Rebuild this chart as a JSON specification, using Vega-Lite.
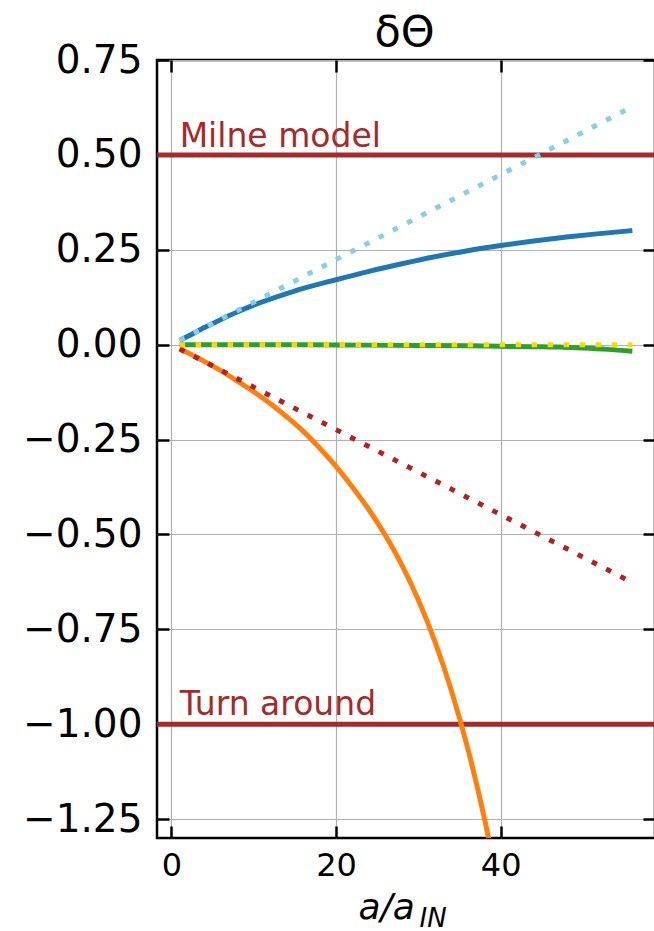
{
  "$schema": "https://vega.github.io/schema/vega-lite/v6.json",
  "width": 498,
  "height": 778,
  "autosize": {"type": "none"},
  "padding": {"left": 157, "top": 60, "right": 0, "bottom": 93},
  "config": {
    "font": "DejaVu Sans",
    "view": {"stroke": "black", "strokeWidth": 2.5},
    "axis": {
      "domain": false,
      "gridColor": "#b0b0b0",
      "gridWidth": 1.2,
      "gridOpacity": 1,
      "tickColor": "black",
      "tickWidth": 2.5,
      "tickSize": -12,
      "labelColor": "black",
      "labelFont": "DejaVu Sans",
      "titleColor": "black",
      "titleFont": "DejaVu Sans",
      "titleFontWeight": "normal"
    }
  },
  "datasets": {
    "levels": [
      {"name": "Milne model", "value": 0.5},
      {"name": "Turn around", "value": -1.0}
    ],
    "solid": [
      {"series": "blue", "a": 1, "delta": 0.011},
      {"series": "blue", "a": 2, "delta": 0.022},
      {"series": "blue", "a": 4, "delta": 0.045},
      {"series": "blue", "a": 6, "delta": 0.066},
      {"series": "blue", "a": 8, "delta": 0.086},
      {"series": "blue", "a": 10, "delta": 0.104},
      {"series": "blue", "a": 13, "delta": 0.127},
      {"series": "blue", "a": 16, "delta": 0.148},
      {"series": "blue", "a": 20, "delta": 0.171},
      {"series": "blue", "a": 24, "delta": 0.193},
      {"series": "blue", "a": 28, "delta": 0.213},
      {"series": "blue", "a": 32, "delta": 0.2315},
      {"series": "blue", "a": 36, "delta": 0.2475},
      {"series": "blue", "a": 40, "delta": 0.261},
      {"series": "blue", "a": 44, "delta": 0.273},
      {"series": "blue", "a": 48, "delta": 0.2835},
      {"series": "blue", "a": 52, "delta": 0.2925},
      {"series": "blue", "a": 56, "delta": 0.3005},
      {"series": "orange", "a": 1, "delta": -0.011},
      {"series": "orange", "a": 2, "delta": -0.0216},
      {"series": "orange", "a": 4, "delta": -0.044},
      {"series": "orange", "a": 6, "delta": -0.0685},
      {"series": "orange", "a": 8, "delta": -0.096},
      {"series": "orange", "a": 10, "delta": -0.124},
      {"series": "orange", "a": 12, "delta": -0.155},
      {"series": "orange", "a": 14, "delta": -0.19},
      {"series": "orange", "a": 16, "delta": -0.228},
      {"series": "orange", "a": 18, "delta": -0.2725},
      {"series": "orange", "a": 20, "delta": -0.321},
      {"series": "orange", "a": 22, "delta": -0.376},
      {"series": "orange", "a": 24, "delta": -0.435},
      {"series": "orange", "a": 26, "delta": -0.503},
      {"series": "orange", "a": 28, "delta": -0.581},
      {"series": "orange", "a": 30, "delta": -0.673},
      {"series": "orange", "a": 32, "delta": -0.782},
      {"series": "orange", "a": 34, "delta": -0.911},
      {"series": "orange", "a": 36, "delta": -1.064},
      {"series": "orange", "a": 38, "delta": -1.246},
      {"series": "orange", "a": 40, "delta": -1.46},
      {"series": "green", "a": 1, "delta": 0.0},
      {"series": "green", "a": 10, "delta": 0.0},
      {"series": "green", "a": 20, "delta": -0.001},
      {"series": "green", "a": 30, "delta": -0.002},
      {"series": "green", "a": 36, "delta": -0.003},
      {"series": "green", "a": 40, "delta": -0.0045},
      {"series": "green", "a": 44, "delta": -0.0055},
      {"series": "green", "a": 47, "delta": -0.0065},
      {"series": "green", "a": 50, "delta": -0.009},
      {"series": "green", "a": 53, "delta": -0.0125},
      {"series": "green", "a": 56, "delta": -0.0175}
    ],
    "dotted": [
      {"series": "skyblue", "a": 1, "delta": 0.0112},
      {"series": "skyblue", "a": 56, "delta": 0.627},
      {"series": "firebrick", "a": 1, "delta": -0.0112},
      {"series": "firebrick", "a": 56, "delta": -0.627},
      {"series": "gold", "a": 1, "delta": 0.0},
      {"series": "gold", "a": 56, "delta": 0.0}
    ],
    "notes": [
      {"label": "Milne model", "a": 1, "delta": 0.52},
      {"label": "Turn around", "a": 1, "delta": -0.975}
    ]
  },
  "layer": [
    {
      "data": {"name": "levels"},
      "mark": {"type": "rule", "color": "#a52a2a", "strokeWidth": 5},
      "encoding": {
        "y": {
          "field": "value",
          "type": "quantitative",
          "scale": {"domain": [-1.3, 0.75], "nice": false, "zero": false},
          "axis": null
        }
      }
    },
    {
      "data": {"name": "solid"},
      "mark": {"type": "line", "strokeWidth": 5, "clip": true, "interpolate": "monotone"},
      "encoding": {
        "x": {
          "field": "a",
          "type": "quantitative",
          "scale": {"domain": [-1.75, 58.75], "nice": false, "zero": false},
          "axis": {
            "orient": "bottom",
            "values": [0, 20, 40],
            "format": "d",
            "labelFontSize": 32,
            "labelPadding": 24,
            "grid": true,
            "title": "a/a",
            "titleFontSize": 36,
            "titleFontStyle": "italic",
            "titleAlign": "left",
            "titleBaseline": "alphabetic",
            "titleX": 201,
            "titleY": 80
          }
        },
        "y": {
          "field": "delta",
          "type": "quantitative",
          "scale": {"domain": [-1.3, 0.75], "nice": false, "zero": false},
          "axis": {
            "orient": "left",
            "values": [-1.25, -1.0, -0.75, -0.5, -0.25, 0, 0.25, 0.5, 0.75],
            "format": ".2f",
            "labelFontSize": 39,
            "labelPadding": 27,
            "grid": true,
            "title": null
          }
        },
        "color": {
          "field": "series",
          "type": "nominal",
          "scale": {
            "domain": ["blue", "orange", "green", "skyblue", "firebrick", "gold"],
            "range": ["#1f77b4", "#ff7f0e", "#2ca02c", "#87ceeb", "#b22222", "#ffd700"]
          },
          "legend": null
        }
      }
    },
    {
      "data": {"name": "dotted"},
      "mark": {"type": "line", "strokeWidth": 5, "strokeDash": [5.5, 10.5], "strokeCap": "butt", "clip": true},
      "encoding": {
        "x": {
          "field": "a",
          "type": "quantitative",
          "scale": {"domain": [-1.75, 58.75], "nice": false, "zero": false},
          "axis": {
            "orient": "top",
            "values": [0, 20, 40],
            "labels": false,
            "grid": false,
            "title": "δΘ",
            "titleFontSize": 43,
            "titleAlign": "center",
            "titleBaseline": "alphabetic",
            "titleX": 247,
            "titleY": -15
          }
        },
        "y": {
          "field": "delta",
          "type": "quantitative",
          "scale": {"domain": [-1.3, 0.75], "nice": false, "zero": false},
          "axis": {
            "orient": "right",
            "values": [-1.25, -1.0, -0.75, -0.5, -0.25, 0, 0.25, 0.5, 0.75],
            "labels": false,
            "grid": false,
            "title": null
          }
        },
        "color": {
          "field": "series",
          "type": "nominal",
          "scale": {
            "domain": ["blue", "orange", "green", "skyblue", "firebrick", "gold"],
            "range": ["#1f77b4", "#ff7f0e", "#2ca02c", "#87ceeb", "#b22222", "#ffd700"]
          },
          "legend": null
        }
      }
    },
    {
      "data": {"name": "notes"},
      "mark": {"type": "text", "fontSize": 33, "align": "left", "baseline": "alphabetic", "color": "#a52a2a", "font": "DejaVu Sans"},
      "encoding": {
        "x": {
          "field": "a",
          "type": "quantitative",
          "scale": {"domain": [-1.75, 58.75], "nice": false, "zero": false},
          "axis": {
            "orient": "bottom",
            "labels": false,
            "ticks": false,
            "grid": false,
            "title": "IN",
            "titleFontSize": 26,
            "titleFontStyle": "italic",
            "titleAlign": "left",
            "titleBaseline": "alphabetic",
            "titleX": 262,
            "titleY": 88
          }
        },
        "y": {
          "field": "delta",
          "type": "quantitative",
          "scale": {"domain": [-1.3, 0.75], "nice": false, "zero": false},
          "axis": null
        },
        "text": {"field": "label", "type": "nominal"}
      }
    }
  ],
  "resolve": {"axis": {"x": "independent", "y": "independent"}}
}
